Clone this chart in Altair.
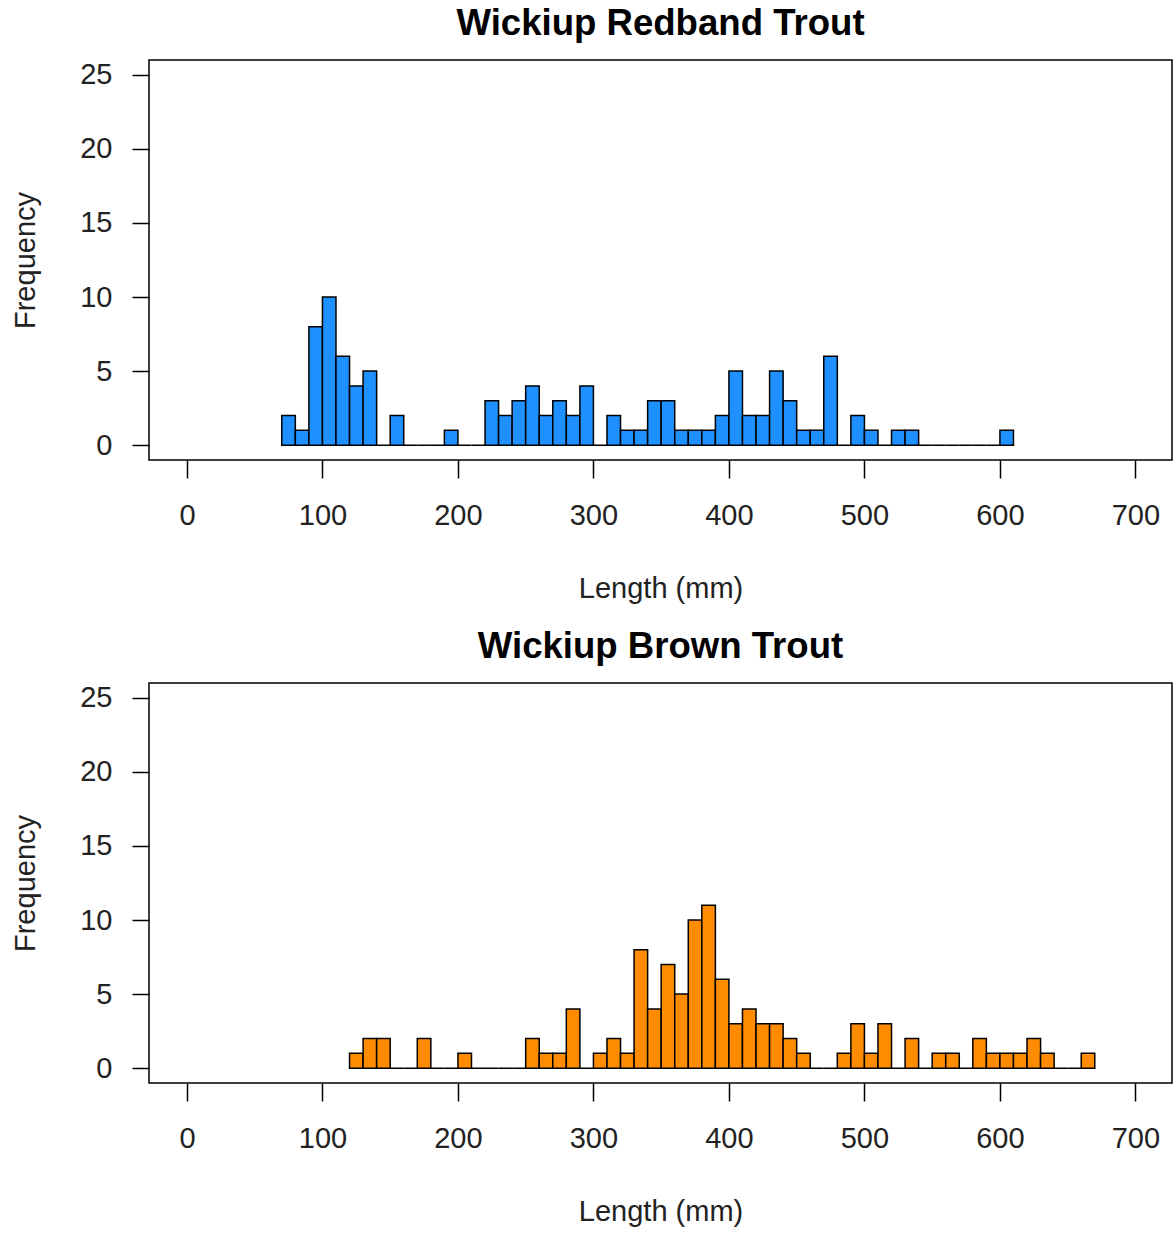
import altair as alt
import pandas as pd

# Histogram data (10 mm bins)
bin_width = 10
redband_first_bin = 70
redband_counts = [2, 1, 8, 10, 6, 4, 5, 0, 2, 0, 0, 0, 1, 0, 0, 3, 2, 3, 4, 2, 3, 2, 4, 0,
                  2, 1, 1, 3, 3, 1, 1, 1, 2, 5, 2, 2, 5, 3, 1, 1, 6, 0, 2, 1, 0, 1, 1,
                  0, 0, 0, 0, 0, 0, 1]
brown_first_bin = 120
brown_counts = [1, 2, 2, 0, 0, 2, 0, 0, 1, 0, 0, 0, 0, 2, 1, 1, 4, 0, 1, 2, 1, 8, 4, 7, 5,
                10, 11, 6, 3, 4, 3, 3, 2, 1, 0, 0, 1, 3, 1, 3, 0, 2, 0, 1, 1, 0, 2, 1, 1,
                1, 2, 1, 0, 0, 1]

x_ticks = [0, 100, 200, 300, 400, 500, 600, 700]
y_ticks = [0, 5, 10, 15, 20, 25]

FONT = "Liberation Sans"


def panel(title, first_bin, counts, color):
    df = pd.DataFrame({
        "lo": [first_bin + i * bin_width for i in range(len(counts))],
        "count": counts,
    })
    df["hi"] = df["lo"] + bin_width
    df["zero"] = 0
    return alt.Chart(df).mark_rect(
        color=color, stroke="black", strokeWidth=1.5
    ).encode(
        x=alt.X("lo:Q",
                scale=alt.Scale(domain=[-28, 727], nice=False, zero=False),
                axis=alt.Axis(values=x_ticks, title="Length (mm)", grid=False,
                              domain=False, tickSize=18, tickWidth=1.5,
                              tickColor="black", labelPadding=23,
                              titlePadding=44, labelFlush=False)),
        x2="hi:Q",
        y=alt.Y("count:Q",
                scale=alt.Scale(domain=[-1, 26], nice=False),
                axis=alt.Axis(values=y_ticks, title="Frequency", grid=False,
                              domain=False, tickSize=17, tickWidth=1.5,
                              tickColor="black", labelPadding=20,
                              titlePadding=39)),
        y2="zero:Q",
    ).properties(
        width=1023, height=400,
        title=alt.TitleParams(title, font=FONT, fontSize=36.6, fontWeight="bold",
                              anchor="middle", color="black", offset=17),
    )


top = panel("Wickiup Redband Trout", redband_first_bin, redband_counts, "#1E90FF")
bottom = panel("Wickiup Brown Trout", brown_first_bin, brown_counts, "#FF8C00")

chart = alt.vconcat(top, bottom, spacing=24).properties(
    padding={"left": 10, "top": 5, "right": 0, "bottom": 0},
    background="white",
).configure_view(
    stroke="black", strokeWidth=1.5
).configure_axis(
    labelFont=FONT, labelFontSize=29, labelColor="#222222",
    titleFont=FONT, titleFontSize=29, titleFontWeight="normal", titleColor="#222222",
).configure_concat(spacing=24)

chart.save("out.html", embed_options={"renderer": "svg", "actions": False})
